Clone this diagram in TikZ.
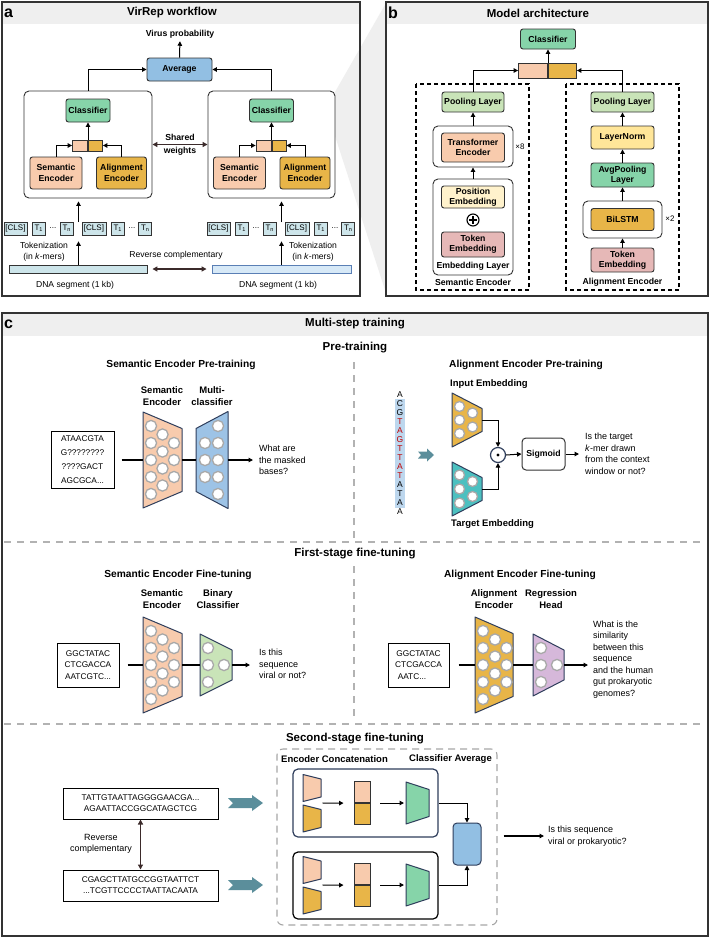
\documentclass[tikz,border=0pt]{standalone}
\usepackage{fontspec}
\setmainfont{Liberation Sans}
\usetikzlibrary{arrows.meta,calc}
\definecolor{dk}{HTML}{333333}
\definecolor{peach}{HTML}{F8CBAD}
\definecolor{gold}{HTML}{E8B548}
\definecolor{mint}{HTML}{86D4A9}
\definecolor{pgreen}{HTML}{C9E4B8}
\definecolor{avgblue}{HTML}{92BFE3}
\definecolor{tok}{HTML}{CDE5EA}
\definecolor{lyellow}{HTML}{FFF2CC}
\definecolor{yellowb}{HTML}{FFE699}
\definecolor{pinkb}{HTML}{E6B8B7}
\definecolor{lav}{HTML}{D6B8DA}
\definecolor{tealb}{HTML}{4CC0C0}
\definecolor{mblue}{HTML}{9DC3E6}
\definecolor{barrow}{HTML}{5B8E9B}
\definecolor{navy}{HTML}{2F3E5C}
\definecolor{titlebg}{HTML}{EFEFEF}
\definecolor{brownb}{HTML}{3B2A2A}
\definecolor{cgray}{HTML}{A8A8A8}
\definecolor{band}{HTML}{BDD7EE}
\definecolor{seqred}{HTML}{C00000}
\definecolor{dnab}{HTML}{D7E9F7}
\definecolor{dnabd}{HTML}{5A7FB5}
\newcommand\fPanel{\bfseries\fontsize{16}{16}\selectfont}
\newcommand\fTitle{\bfseries\fontsize{11.5}{13}\selectfont}
\newcommand\fSub{\bfseries\fontsize{10.2}{12}\selectfont}
\newcommand\fLbl{\bfseries\fontsize{8.7}{10.3}\selectfont}
\newcommand\fHd{\bfseries\fontsize{9.5}{12}\selectfont}
\newcommand\fTxt{\fontsize{9}{11.5}\selectfont}
\newcommand\fTxtA{\fontsize{8.6}{11}\selectfont}
\newcommand\fSeqT{\fontsize{8.3}{11.5}\selectfont}
\newcommand\fTok{\fontsize{8}{9}\selectfont}
\newcommand\fSq{\fontsize{8.5}{9}\selectfont}
\newcommand\tsub[1]{\raisebox{-1.3pt}{\fontsize{5.5}{5.5}\selectfont #1}}
\newcommand\trapz[7]{%
  \draw[trap,fill=#7] ({#2},{#4-#5}) -- ({#3},{#4-#6}) -- ({#3},{#4+#6}) -- ({#2},{#4+#5}) -- cycle;
  \coordinate (#1-w) at ({#2},{#4});
  \coordinate (#1-e) at ({#3},{#4});}
\newcommand\circs[4]{\foreach \oo in {#3} {\draw[cir] ({#1},{#2+\oo}) circle[radius=#4pt];}}
\begin{document}
\begin{tikzpicture}[x=1pt,y=-1pt,
 panel/.style={draw=dk,line width=1.5pt},
 bx/.style={draw=dk,line width=0.9pt,rounded corners=2.5pt,align=center,inner sep=0pt,font=\fLbl},
 grp/.style={draw=dk,line width=0.9pt,rounded corners=5pt,fill=white,inner sep=0pt},
 catb/.style={draw=dk,line width=0.9pt,inner sep=0pt},
 arr/.style={draw=black,line width=1pt,-{Triangle[length=4.5pt,width=4.5pt]}},
 ln/.style={draw=black,line width=1.2pt},
 darr/.style={draw=brownb,line width=1.3pt,{Triangle[length=5pt,width=5pt]}-{Triangle[length=5pt,width=5pt]}},
 tokb/.style={draw=dk,line width=0.8pt,fill=tok,inner sep=0pt,minimum height=13,font=\fTok},
 txt/.style={inner sep=0pt,align=left,font=\fTxt},
 trap/.style={draw=navy,line width=1pt,line join=round},
 cir/.style={draw=cgray,fill=white,line width=1.3pt},
 tbox/.style={draw=black,line width=1pt,fill=white,inner sep=0pt,align=center,font=\fSeqT},
 gdash/.style={draw=gray!60,line width=1.4pt,dash pattern=on 7pt off 6pt},
 bdash/.style={draw=black,line width=1.1pt,dash pattern=on 4pt off 3pt},
 lab/.style={font=\fLbl,inner sep=0pt,align=center},
 hd/.style={font=\fHd,inner sep=0pt,align=center}]
\useasboundingbox (0,0) rectangle (710,938);
\fill[white] (0,0) rectangle (710,938);
% ================= panel a =================
\fill[white] (2,2) rectangle (360,296);
\fill[titlebg] (335,92) -- (386,3) -- (386,293) -- (335,136) -- cycle;
\fill[titlebg] (2,2) rectangle (360,24);
\draw[panel] (2,2) rectangle (360,296);
\node[font=\fPanel,anchor=west,inner sep=1pt] (la) at (3,13) {a};
\node[font=\fTitle] (ta) at (172,13) {VirRep workflow};
\node[lab] (vp) at (180,34) {Virus probability};
\node[bx,fill=avgblue,minimum width=65,minimum height=23] (avg) at (179.5,69.5) {Average};
\node[grp,minimum width=128,minimum height=107] (gL) at (88,144.5) {};
\node[grp,minimum width=127,minimum height=107] (gR) at (271.5,144.5) {};
\draw[arr] (gL.north) |- (avg.west);
\draw[arr] (gR.north) |- (avg.east);
\draw[arr,shorten >=3pt] (avg.north) -- (vp.south);
% left group
\node[bx,fill=mint,minimum width=44,minimum height=23] (clsL) at (88,110.5) {Classifier};
\node[catb,fill=peach,minimum width=15,minimum height=11,anchor=east] (cLa) at (88,145.5) {};
\node[catb,fill=gold,minimum width=14,minimum height=11,anchor=west] (cLb) at (88,145.5) {};
\draw[arr] (cLa.north east) -- (clsL.south);
\node[bx,fill=peach,minimum width=52,minimum height=32] (semL) at (56,173) {Semantic\\Encoder};
\node[bx,fill=gold,minimum width=50,minimum height=32] (alnL) at (121.5,173) {Alignment\\Encoder};
\draw[arr] (semL.north) |- (cLa.west);
\draw[arr] (alnL.north) |- (cLb.east);
% right group
\node[bx,fill=mint,minimum width=44,minimum height=23] (clsR) at (271.5,110.5) {Classifier};
\node[catb,fill=peach,minimum width=15,minimum height=11,anchor=east] (cRa) at (271.5,145.5) {};
\node[catb,fill=gold,minimum width=14,minimum height=11,anchor=west] (cRb) at (271.5,145.5) {};
\draw[arr] (cRa.north east) -- (clsR.south);
\node[bx,fill=peach,minimum width=52,minimum height=32] (semR) at (239.5,173) {Semantic\\Encoder};
\node[bx,fill=gold,minimum width=50,minimum height=32] (alnR) at (305,173) {Alignment\\Encoder};
\draw[arr] (semR.north) |- (cRa.west);
\draw[arr] (alnR.north) |- (cRb.east);
% shared weights
\draw[darr] (gL.east) -- (gR.west);
\node[lab] (sw1) at (180,137) {Shared};
\node[lab] (sw2) at (180,151.5) {weights};
% tokens left
\node[tokb,minimum width=23] (tl1) at (15.5,228.5) {[CLS]};
\node[tokb,minimum width=13] (tl2) at (38.5,228.5) {T\tsub{1}};
\node[font=\fTok,inner sep=0pt] (tl3) at (53,228.5) {...};
\node[tokb,minimum width=13] (tl4) at (66.5,228.5) {T\tsub{n}};
\node[tokb,minimum width=24] (tl5) at (94,228.5) {[CLS]};
\node[tokb,minimum width=13] (tl6) at (117.5,228.5) {T\tsub{1}};
\node[font=\fTok,inner sep=0pt] (tl7) at (132,228.5) {...};
\node[tokb,minimum width=13] (tl8) at (145,228.5) {T\tsub{n}};
% tokens right
\node[tokb,minimum width=23] (tr1) at (218.5,228.5) {[CLS]};
\node[tokb,minimum width=13] (tr2) at (241.5,228.5) {T\tsub{1}};
\node[font=\fTok,inner sep=0pt] (tr3) at (256,228.5) {...};
\node[tokb,minimum width=13] (tr4) at (269.5,228.5) {T\tsub{n}};
\node[tokb,minimum width=24] (tr5) at (297,228.5) {[CLS]};
\node[tokb,minimum width=13] (tr6) at (320.5,228.5) {T\tsub{1}};
\node[font=\fTok,inner sep=0pt] (tr7) at (335,228.5) {...};
\node[tokb,minimum width=13] (tr8) at (348,228.5) {T\tsub{n}};
\coordinate (tkL) at (78.5,222);
\coordinate (tkR) at (281.5,222);
\draw[arr,shorten >=3pt] (tkL) -- (tkL |- gL.south);
\draw[arr,shorten >=3pt] (tkR) -- (tkR |- gR.south);
% DNA bars
\node[draw=dk,line width=0.9pt,fill=tok,minimum width=138,minimum height=8,inner sep=0pt] (dnaL) at (78,269) {};
\node[draw=dnabd,line width=0.9pt,fill=dnab,minimum width=139,minimum height=8,inner sep=0pt] (dnaR) at (281.5,269) {};
\draw[arr,shorten >=6pt] (dnaL.north -| tkL) -- (tkL |- tl4.south);
\draw[arr,shorten >=6pt] (dnaR.north -| tkR) -- (tkR |- tr4.south);
\draw[darr,shorten <=5pt,shorten >=5pt] (dnaL.east) -- (dnaR.west);
\node[font=\fTxtA,align=center,inner sep=0pt] (tzL) at (44,251.5) {Tokenization\\(in \textit{k}-mers)};
\node[font=\fTxtA,align=center,inner sep=0pt] (tzR) at (313,251.5) {Tokenization\\(in \textit{k}-mers)};
\node[font=\fTxtA,inner sep=0pt] (rc) at (176,255) {Reverse complementary};
\node[font=\fTxtA,inner sep=0pt] (dsL) at (75,285) {DNA segment (1 kb)};
\node[font=\fTxtA,inner sep=0pt] (dsR) at (278,285) {DNA segment (1 kb)};
% ================= panel b =================
\fill[white] (386,2) rectangle (708,296);
\fill[titlebg] (386,2) rectangle (708,24);
\draw[panel] (386,2) rectangle (708,296);
\node[font=\fPanel,anchor=west,inner sep=1pt] (lb) at (387,13) {b};
\node[font=\fTitle] (tb) at (538,13) {Model architecture};
\node[bx,fill=mint,minimum width=55,minimum height=20] (clsB) at (548,39) {Classifier};
\node[catb,fill=peach,minimum width=29,minimum height=15,anchor=east] (cBa) at (548,70.5) {};
\node[catb,fill=gold,minimum width=28,minimum height=15,anchor=west] (cBb) at (548,70.5) {};
\draw[arr] (cBa.north east) -- (clsB.south);
\draw[bdash] (416,84) rectangle (529,290);
\draw[bdash] (566,84) rectangle (679,290);
% semantic column
\node[bx,fill=pgreen,minimum width=62,minimum height=20] (poolL) at (473,102) {Pooling Layer};
\node[grp,minimum width=80,minimum height=41] (trO) at (473,146.5) {};
\node[bx,fill=peach,minimum width=63,minimum height=29] (trE) at (473,147.5) {Transformer\\Encoder};
\node[font=\fTok,inner sep=0pt] (x8) at (520,147) {×8};
\node[grp,minimum width=80,minimum height=96] (emO) at (473,227) {};
\node[bx,fill=lyellow,minimum width=63,minimum height=22] (posE) at (473,197) {Position\\Embedding};
\node[circle,draw=black,line width=1.1pt,minimum size=12,inner sep=0pt] (plus) at (473,220) {};
\draw[line width=1.1pt] ($(plus.center)+(-4,0)$) -- ($(plus.center)+(4,0)$);
\draw[line width=1.1pt] ($(plus.center)+(0,-4)$) -- ($(plus.center)+(0,4)$);
\node[bx,fill=pinkb,minimum width=63,minimum height=25] (tokE1) at (473,244.5) {Token\\Embedding};
\node[lab] (emL) at (473,266) {Embedding Layer};
\node[lab] (seL) at (473,282) {Semantic Encoder};
\draw[arr] (poolL.north) |- (cBa.west);
\draw[arr] (trO.north) -- (poolL.south);
\draw[arr] (emO.north) -- (trO.south);
% alignment column
\node[bx,fill=pgreen,minimum width=63,minimum height=20] (poolR) at (622.5,102) {Pooling Layer};
\node[bx,fill=yellowb,minimum width=63,minimum height=23] (lnorm) at (622.5,137.5) {LayerNorm};
\node[bx,fill=mint,minimum width=63,minimum height=24] (avgp) at (622.5,175) {AvgPooling\\Layer};
\node[grp,minimum width=79,minimum height=37] (biO) at (622.5,219.5) {};
\node[bx,fill=gold,minimum width=63,minimum height=22] (bil) at (622.5,219.5) {BiLSTM};
\node[font=\fTok,inner sep=0pt] (x2) at (670,219) {×2};
\node[bx,fill=pinkb,minimum width=63,minimum height=24] (tokE2) at (622.5,260) {Token\\Embedding};
\node[lab] (alL) at (622.5,282) {Alignment Encoder};
\draw[arr] (poolR.north) |- (cBb.east);
\draw[arr] (lnorm.north) -- (poolR.south);
\draw[arr] (avgp.north) -- (lnorm.south);
\draw[arr] (biO.north) -- (avgp.south);
\draw[arr] (tokE2.north) -- (biO.south);
% ================= panel c =================
\fill[white] (2,313) rectangle (708,936);
\fill[titlebg] (2,313) rectangle (708,336);
\draw[panel] (2,313) rectangle (708,936);
\node[font=\fPanel,anchor=west,inner sep=1pt] (lc) at (3,324) {c};
\node[font=\fTitle] (tc) at (355,324) {Multi-step training};
\node[font=\fTitle] (h1) at (355,348) {Pre-training};
\node[font=\fTitle] (h2) at (355,554) {First-stage fine-tuning};
\node[font=\fTitle] (h3) at (355,739) {Second-stage fine-tuning};
\draw[gdash] (4,542) -- (706,542);
\draw[gdash] (4,724) -- (706,724);
\draw[gdash] (354,362) -- (354,538);
\draw[gdash] (354,566) -- (354,720);
% ---- semantic pre-training
\node[font=\fSub] (t1) at (181,365) {Semantic Encoder Pre-training};
\node[hd] (l1a) at (162,396) {Semantic\\Encoder};
\node[hd] (l1b) at (212,396) {Multi-\\classifier};
\node[tbox,minimum width=63,minimum height=57,font=\fontsize{8.3}{14}\selectfont] (ib1) at (82.5,460) {ATAACGTA\\G????????\\????GACT\\AGCGCA...};
\trapz{sP}{143}{182}{460}{48}{31.5}{peach}
\circs{151}{460}{-34,-17,0,17,34}{5.6}
\circs{162.5}{460}{-25.5,-8.5,8.5,25.5}{5.6}
\circs{174}{460}{-17,0,17}{5.6}
\trapz{mP}{196}{228}{460}{31.5}{48.5}{mblue}
\circs{205}{460}{-17,0,17}{5.6}
\circs{218}{460}{-34,-17,0,17,34}{5.6}
\node[txt,anchor=west] (qa) at (259,460) {What are\\the masked\\bases?};
\draw[ln,shorten <=7pt] (ib1.east) -- (sP-w);
\draw[ln] (sP-e) -- (mP-w);
\draw[arr,line width=1.2pt,shorten >=6pt] (mP-e) -- (qa.west);
% ---- alignment pre-training
\node[font=\fSub] (t2) at (526,365) {Alignment Encoder Pre-training};
\node[hd,anchor=west] (ie) at (450,384) {Input Embedding};
\fill[band] (395,399) rectangle (405,507.5);
\foreach \ch/\cc [count=\i from 0] in {A/black,C/black,G/black,T/seqred,A/seqred,G/seqred,T/seqred,T/seqred,A/seqred,T/seqred,A/black,T/black,A/black,A/black}
  {\node[font=\fSq,text=\cc,inner sep=0pt] (sq\i) at (400,{395+9*\i}) {\ch};}
\fill[barrow] (418,455) ++(0,-3.5) -- ++(9,0) -- ++(0,-3) -- ++(7,6.5) -- ++(-7,6.5) -- ++(0,-3) -- ++(-9,0) -- ++(3,-3.5) -- cycle;
\trapz{iE}{452}{482}{420}{27}{11.5}{gold}
\circs{459.5}{420}{-13.5,0,13.5}{5}
\circs{472.5}{420}{-7,7}{5}
\trapz{tE}{452}{482}{489}{27}{11.5}{tealb}
\circs{459.5}{489}{-14,0,14}{5}
\circs{472.5}{489}{-7.5,7.5}{5}
\node[circle,draw=navy,line width=1.2pt,fill=white,minimum size=15,inner sep=0pt] (od) at (498,455) {};
\fill (od.center) circle[radius=1.6pt];
\node[draw=dk,line width=1pt,rounded corners=4pt,fill=white,minimum width=43,minimum height=32,inner sep=0pt,font=\fLbl] (sig) at (543.5,454) {Sigmoid};
\draw[arr] (iE-e) -| (od.north);
\draw[arr] (tE-e) -| (od.south);
\draw[arr] (od.east) -- (sig.west);
\node[txt,anchor=west] (qb) at (585,454) {Is the target\\\textit{k}-mer drawn\\from the context\\window or not?};
\draw[arr,shorten >=6pt] (sig.east) -- (qb.west);
\node[hd,anchor=west] (te) at (451,524) {Target Embedding};
% ---- semantic fine-tuning
\node[font=\fSub] (t3) at (178,575) {Semantic Encoder Fine-tuning};
\node[hd] (l3a) at (162,599) {Semantic\\Encoder};
\node[hd] (l3b) at (218,599) {Binary\\Classifier};
\node[tbox,minimum width=62,minimum height=44] (ib3) at (88,665) {GGCTATAC\\CTCGACCA\\AATCGTC...};
\trapz{sF}{143}{182}{665}{48}{31.5}{peach}
\circs{151}{665}{-34,-17,0,17,34}{5.6}
\circs{162.5}{665}{-25.5,-8.5,8.5,25.5}{5.6}
\circs{174}{665}{-17,0,17}{5.6}
\trapz{bF}{200}{232}{665}{31}{15}{pgreen}
\circs{208}{665}{-17,0,17}{5.6}
\circs{224}{665}{0}{5.6}
\node[txt,anchor=west] (qc) at (259,664) {Is this\\sequence\\viral or not?};
\draw[ln,shorten <=8pt] (ib3.east) -- (sF-w);
\draw[ln] (sF-e) -- (bF-w);
\draw[arr,line width=1.2pt,shorten >=9pt] (bF-e) -- (qc.west |- bF-e);
% ---- alignment fine-tuning
\node[font=\fSub] (t4) at (520,575) {Alignment Encoder Fine-tuning};
\node[hd] (l4a) at (494,599) {Alignment\\Encoder};
\node[hd] (l4b) at (551,599) {Regression\\Head};
\node[tbox,minimum width=61,minimum height=44] (ib4) at (418.5,665) {GGCTATAC\\CTCGACCA\\AATC...\hspace*{13pt}};
\trapz{aF}{475}{513}{665}{48}{31.5}{gold}
\circs{483}{665}{-34,-17,0,17,34}{5.6}
\circs{495}{665}{-25.5,-8.5,8.5,25.5}{5.6}
\circs{506.5}{665}{-17,0,17}{5.6}
\trapz{rH}{533}{564}{665}{31}{15}{lav}
\circs{541}{665}{-17,0,17}{5.6}
\circs{557}{665}{0}{5.6}
\node[txt,anchor=west] (qd) at (593,659.5) {What is the\\similarity\\between this\\sequence\\and the human\\gut prokaryotic\\genomes?};
\draw[ln,shorten <=9pt] (ib4.east) -- (aF-w);
\draw[ln] (aF-e) -- (rH-w);
\draw[arr,line width=1.2pt,shorten >=5pt] (rH-e) -- (qd.west |- rH-e);
% ---- second stage
\node[tbox,minimum width=155,minimum height=31,font=\fontsize{8.3}{11}\selectfont] (sq1) at (140.5,803.5) {TATTGTAATTAGGGGAACGA...\\AGAATTACCGGCATAGCTCG};
\node[tbox,minimum width=155,minimum height=31,font=\fontsize{8.3}{11}\selectfont] (sq2) at (140.5,885.5) {CGAGCTTATGCCGGTAATTCT\\...TCGTTCCCCTAATTACAATA};
\draw[darr] (sq1.south) -- (sq2.north);
\node[font=\fTxt,align=center,inner sep=0pt] (rc2) at (101,844) {Reverse\\complementary};
\fill[barrow] (228,803) ++(0,-5) -- ++(24,0) -- ++(0,-3) -- ++(11,8) -- ++(-11,8) -- ++(0,-3) -- ++(-24,0) -- ++(5,-5) -- cycle;
\fill[barrow] (228,885) ++(0,-5) -- ++(24,0) -- ++(0,-3) -- ++(11,8) -- ++(-11,8) -- ++(0,-3) -- ++(-24,0) -- ++(5,-5) -- cycle;
\node[draw=gray!70,line width=1.1pt,dash pattern=on 7pt off 5pt,rounded corners=6pt,minimum width=220,minimum height=176,inner sep=0pt] (ss) at (387,837) {};
\node[hd,anchor=west] (ec) at (281,759) {Encoder Concatenation};
\node[hd,anchor=east] (ca) at (492,759) {Classifier Average};
\node[draw=navy,line width=1.2pt,rounded corners=5pt,fill=white,minimum width=145,minimum height=68,inner sep=0pt] (ub) at (365.5,803) {};
\node[draw=black,line width=1.2pt,rounded corners=5pt,fill=white,minimum width=145,minimum height=67,inner sep=0pt] (lbx) at (365.5,885.5) {};
% upper row
\trapz{u1}{303}{321}{788}{13.5}{9}{peach}
\trapz{u2}{303}{321}{818.5}{13.5}{9}{gold}
\node[catb,fill=peach,minimum width=16,minimum height=21,anchor=south] (ucA) at (362,803) {};
\node[catb,fill=gold,minimum width=16,minimum height=21,anchor=north] (ucB) at (362,803) {};
\coordinate (um) at ($(u1-e)!0.5!(u2-e)$);
\draw[arr,shorten <=1.5pt,shorten >=10pt] (um) -- (ucA.south west);
\trapz{ug}{406}{429}{803}{21}{13.5}{mint}
\draw[arr,shorten <=10pt,shorten >=2pt] (ucA.south east) -- (ug-w);
% lower row
\trapz{l1}{303}{321}{870}{13.5}{9}{peach}
\trapz{l2}{303}{321}{900.5}{13.5}{9}{gold}
\node[catb,fill=peach,minimum width=16,minimum height=21,anchor=south] (lcA) at (362,885) {};
\node[catb,fill=gold,minimum width=16,minimum height=21,anchor=north] (lcB) at (362,885) {};
\coordinate (lm) at ($(l1-e)!0.5!(l2-e)$);
\draw[arr,shorten <=1.5pt,shorten >=10pt] (lm) -- (lcA.south west);
\trapz{lg}{406}{429}{885}{21}{13.5}{mint}
\draw[arr,shorten <=10pt,shorten >=2pt] (lcA.south east) -- (lg-w);
\node[draw=navy,line width=1pt,rounded corners=4pt,fill=avgblue,minimum width=28,minimum height=42,inner sep=0pt] (av2) at (467,844) {};
\draw[arr] (ub.east) -| (av2.north);
\draw[arr] (lbx.east) -| (av2.south);
\node[txt,anchor=west] (qe) at (548,836) {Is this sequence\\viral or prokaryotic?};
\draw[arr,line width=1.2pt,shorten <=6pt,shorten >=4pt] (ss.east |- qe.west) -- (qe.west);
\end{tikzpicture}
\end{document}
